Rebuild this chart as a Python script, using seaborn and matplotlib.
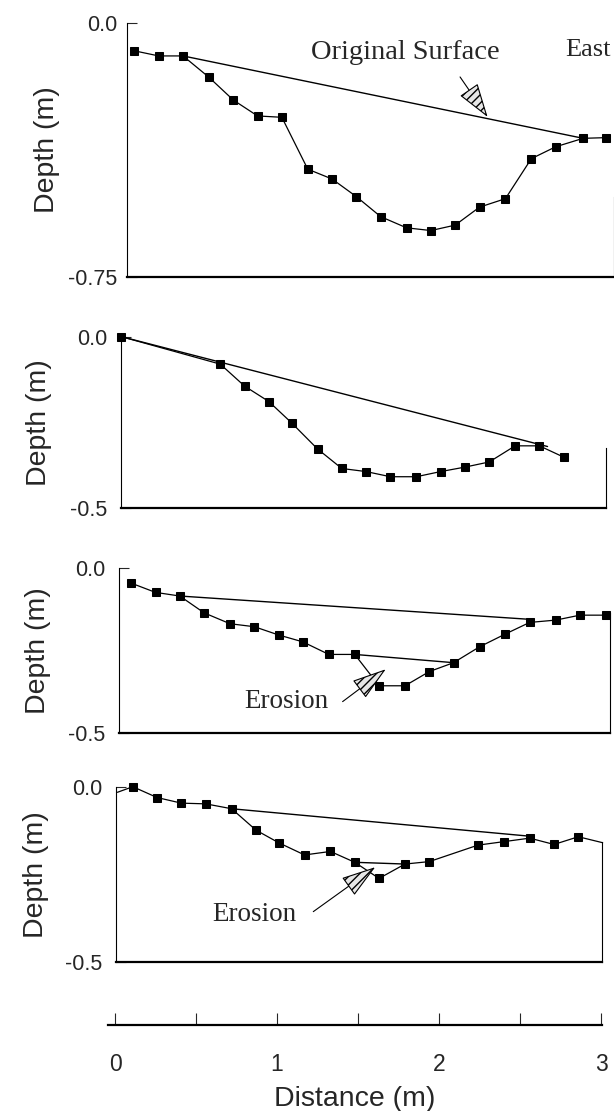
import numpy as np
import matplotlib.pyplot as plt
import seaborn as sns
from matplotlib.transforms import blended_transform_factory

# cross-section profiles (distance m, depth m)
dist1 = [0.12, 0.27, 0.42, 0.58, 0.73, 0.88, 1.03, 1.19, 1.34, 1.49, 1.64, 1.80,
         1.95, 2.10, 2.25, 2.41, 2.57, 2.72, 2.89, 3.03]
depth1 = [-0.083, -0.098, -0.098, -0.161, -0.228, -0.275, -0.279, -0.432, -0.461,
          -0.513, -0.572, -0.605, -0.613, -0.597, -0.544, -0.519, -0.401, -0.366,
          -0.341, -0.339]
surf1_x = [0.42, 2.89]
surf1_y = [-0.098, -0.341]

dist2 = [0.04, 0.65, 0.80, 0.95, 1.09, 1.25, 1.40, 1.55, 1.70, 1.86, 2.01, 2.16,
         2.31, 2.47, 2.62, 2.77]
depth2 = [0.0, -0.080, -0.144, -0.189, -0.251, -0.327, -0.384, -0.393, -0.408,
          -0.408, -0.393, -0.380, -0.365, -0.318, -0.318, -0.351]
surf2_x = [0.04, 2.67]
surf2_y = [0.0, -0.320]

dist3 = [0.10, 0.25, 0.40, 0.55, 0.71, 0.86, 1.01, 1.16, 1.32, 1.48, 1.63, 1.79,
         1.94, 2.09, 2.25, 2.41, 2.56, 2.72, 2.87, 3.03]
depth3 = [-0.045, -0.073, -0.084, -0.135, -0.168, -0.177, -0.202, -0.223, -0.261,
          -0.261, -0.356, -0.356, -0.313, -0.286, -0.238, -0.199, -0.164, -0.157,
          -0.142, -0.142]
surf3_x = [0.40, 2.54]
surf3_y = [-0.084, -0.154]
mid3_x = [1.48, 2.09]
mid3_y = [-0.261, -0.286]

dist4 = [0.015, 0.11, 0.26, 0.41, 0.56, 0.72, 0.87, 1.01, 1.17, 1.33, 1.48, 1.63,
         1.79, 1.94, 2.24, 2.40, 2.56, 2.71, 2.86, 3.01]
depth4 = [-0.016, 0.0, -0.031, -0.047, -0.049, -0.063, -0.124, -0.160, -0.195,
          -0.185, -0.216, -0.262, -0.221, -0.214, -0.167, -0.157, -0.147, -0.165,
          -0.143, -0.160]
surf4_x = [0.72, 2.55]
surf4_y = [-0.063, -0.141]
mid4_x = [1.48, 1.79]
mid4_y = [-0.216, -0.221]

y_bottoms = [-0.75, -0.5, -0.5, -0.5]
y_ticklabels = [['-0.75', '0.0'], ['-0.5', '0.0'], ['-0.5', '0.0'], ['-0.5', '0.0']]
x_ticks = [0, 1, 2, 3]

sns.set_style('white')
plt.rcParams['font.family'] = ['Liberation Sans', 'DejaVu Sans']
serif = ['Liberation Serif', 'DejaVu Serif']

W, H = 614, 1111
fig = plt.figure(figsize=(W / 100, H / 100), dpi=100)

# panel boxes in pixels: left, right, top, bottom
boxes = [(127, 614, 22.7, 277), (121, 606, 336.7, 508.3),
         (119.4, 610, 568.3, 733.3), (116.3, 602, 786.7, 961.7)]
x0_px, px_per_m = 115, 162
right_spine_low = [-0.514, -0.325, -0.135, -0.158]
label_right_px = [60, 52, 51, 49]
tick_pads = [7, 10, 10, 10]

profiles = [(dist1, depth1), (dist2, depth2), (dist3, depth3), (dist4, depth4)]
surfaces = [[(surf1_x, surf1_y)], [(surf2_x, surf2_y)],
            [(surf3_x, surf3_y), (mid3_x, mid3_y)],
            [(surf4_x, surf4_y), (mid4_x, mid4_y)]]
axes = []
for i, (l, r, t, b) in enumerate(boxes):
    ax = fig.add_axes([l / W, 1 - b / H, (r - l) / W, (b - t) / H])
    axes.append(ax)
    ax.set_xlim((l - x0_px) / px_per_m, (r - x0_px) / px_per_m)
    ax.set_ylim(y_bottoms[i], 0.0)

    for sx, sy in surfaces[i]:
        ax.plot(sx, sy, color='black', lw=1.0, clip_on=False)
    x, y = profiles[i]
    mev = slice(1, -1) if i == 3 else None
    sns.lineplot(x=x, y=y, ax=ax, sort=False, color='black', lw=0.9,
                 marker='s', markersize=5.8, markeredgecolor='black',
                 markevery=mev, clip_on=False)

    ax.set_xticks([])
    ax.set_yticks([y_bottoms[i], 0.0])
    ax.set_yticklabels(y_ticklabels[i], fontsize=15.5)
    ax.tick_params(axis='y', direction='in', length=7, width=0.8, pad=tick_pads[i], left=True)
    ax.spines['top'].set_visible(False)
    ax.spines['left'].set_linewidth(0.8)
    ax.spines['bottom'].set_linewidth(1.6)
    ax.spines['right'].set_linewidth(0.8)
    ax.spines['right'].set_bounds(y_bottoms[i], right_spine_low[i])
    for s in ax.spines.values():
        s.set_color('black')

    ax.set_ylabel('Depth (m)', fontsize=20.5)
    ax.yaxis.set_label_coords(label_right_px[i] / W, 0.5,
                              transform=blended_transform_factory(fig.transFigure, ax.transAxes))

arrow_kw = dict(arrowstyle='-|>,head_length=1.1,head_width=0.35', mutation_scale=20,
                lw=0.8, color='black', fc='#e6e6e6', hatch='////', shrinkA=0, shrinkB=0)

ax = axes[0]
ax.text(1.79, -0.089, 'Original Surface', family=serif, fontsize=20.5,
        ha='center', va='center')
ax.text(3.06, -0.08, 'East', family=serif, fontsize=19, ha='right', va='center')
ax.annotate('', xy=(2.30, -0.278), xytext=(2.13, -0.16), arrowprops=arrow_kw)

ax = axes[2]
ax.text(1.056, -0.404, 'Erosion', family=serif, fontsize=19.5, ha='center', va='center')
ax.annotate('', xy=(1.671, -0.306), xytext=(1.405, -0.404), arrowprops=arrow_kw)

ax = axes[3]
ax.text(0.861, -0.364, 'Erosion', family=serif, fontsize=19.5, ha='center', va='center')
ax.annotate('', xy=(1.606, -0.230), xytext=(1.224, -0.357), arrowprops=arrow_kw)

# shared distance axis at the bottom
axb = fig.add_axes([108 / W, 1 - 1025 / H, 494 / W, 0.0001])
axb.set_xlim((108 - x0_px) / px_per_m, (602 - x0_px) / px_per_m)
axb.set_yticks([])
axb.set_xticks(x_ticks)
axb.set_xticklabels([str(v) for v in x_ticks], fontsize=16.5)
axb.set_xticks([0.5, 1.5, 2.5], minor=True)
axb.tick_params(axis='x', which='both', direction='in', length=9, width=0.8,
                pad=20, bottom=True)
for s in ['top', 'left', 'right']:
    axb.spines[s].set_visible(False)
axb.spines['bottom'].set_linewidth(1.6)
axb.spines['bottom'].set_color('black')
axb.set_xlabel('Distance (m)', fontsize=20.5, labelpad=7)

fig.savefig('out.png', dpi=100)
